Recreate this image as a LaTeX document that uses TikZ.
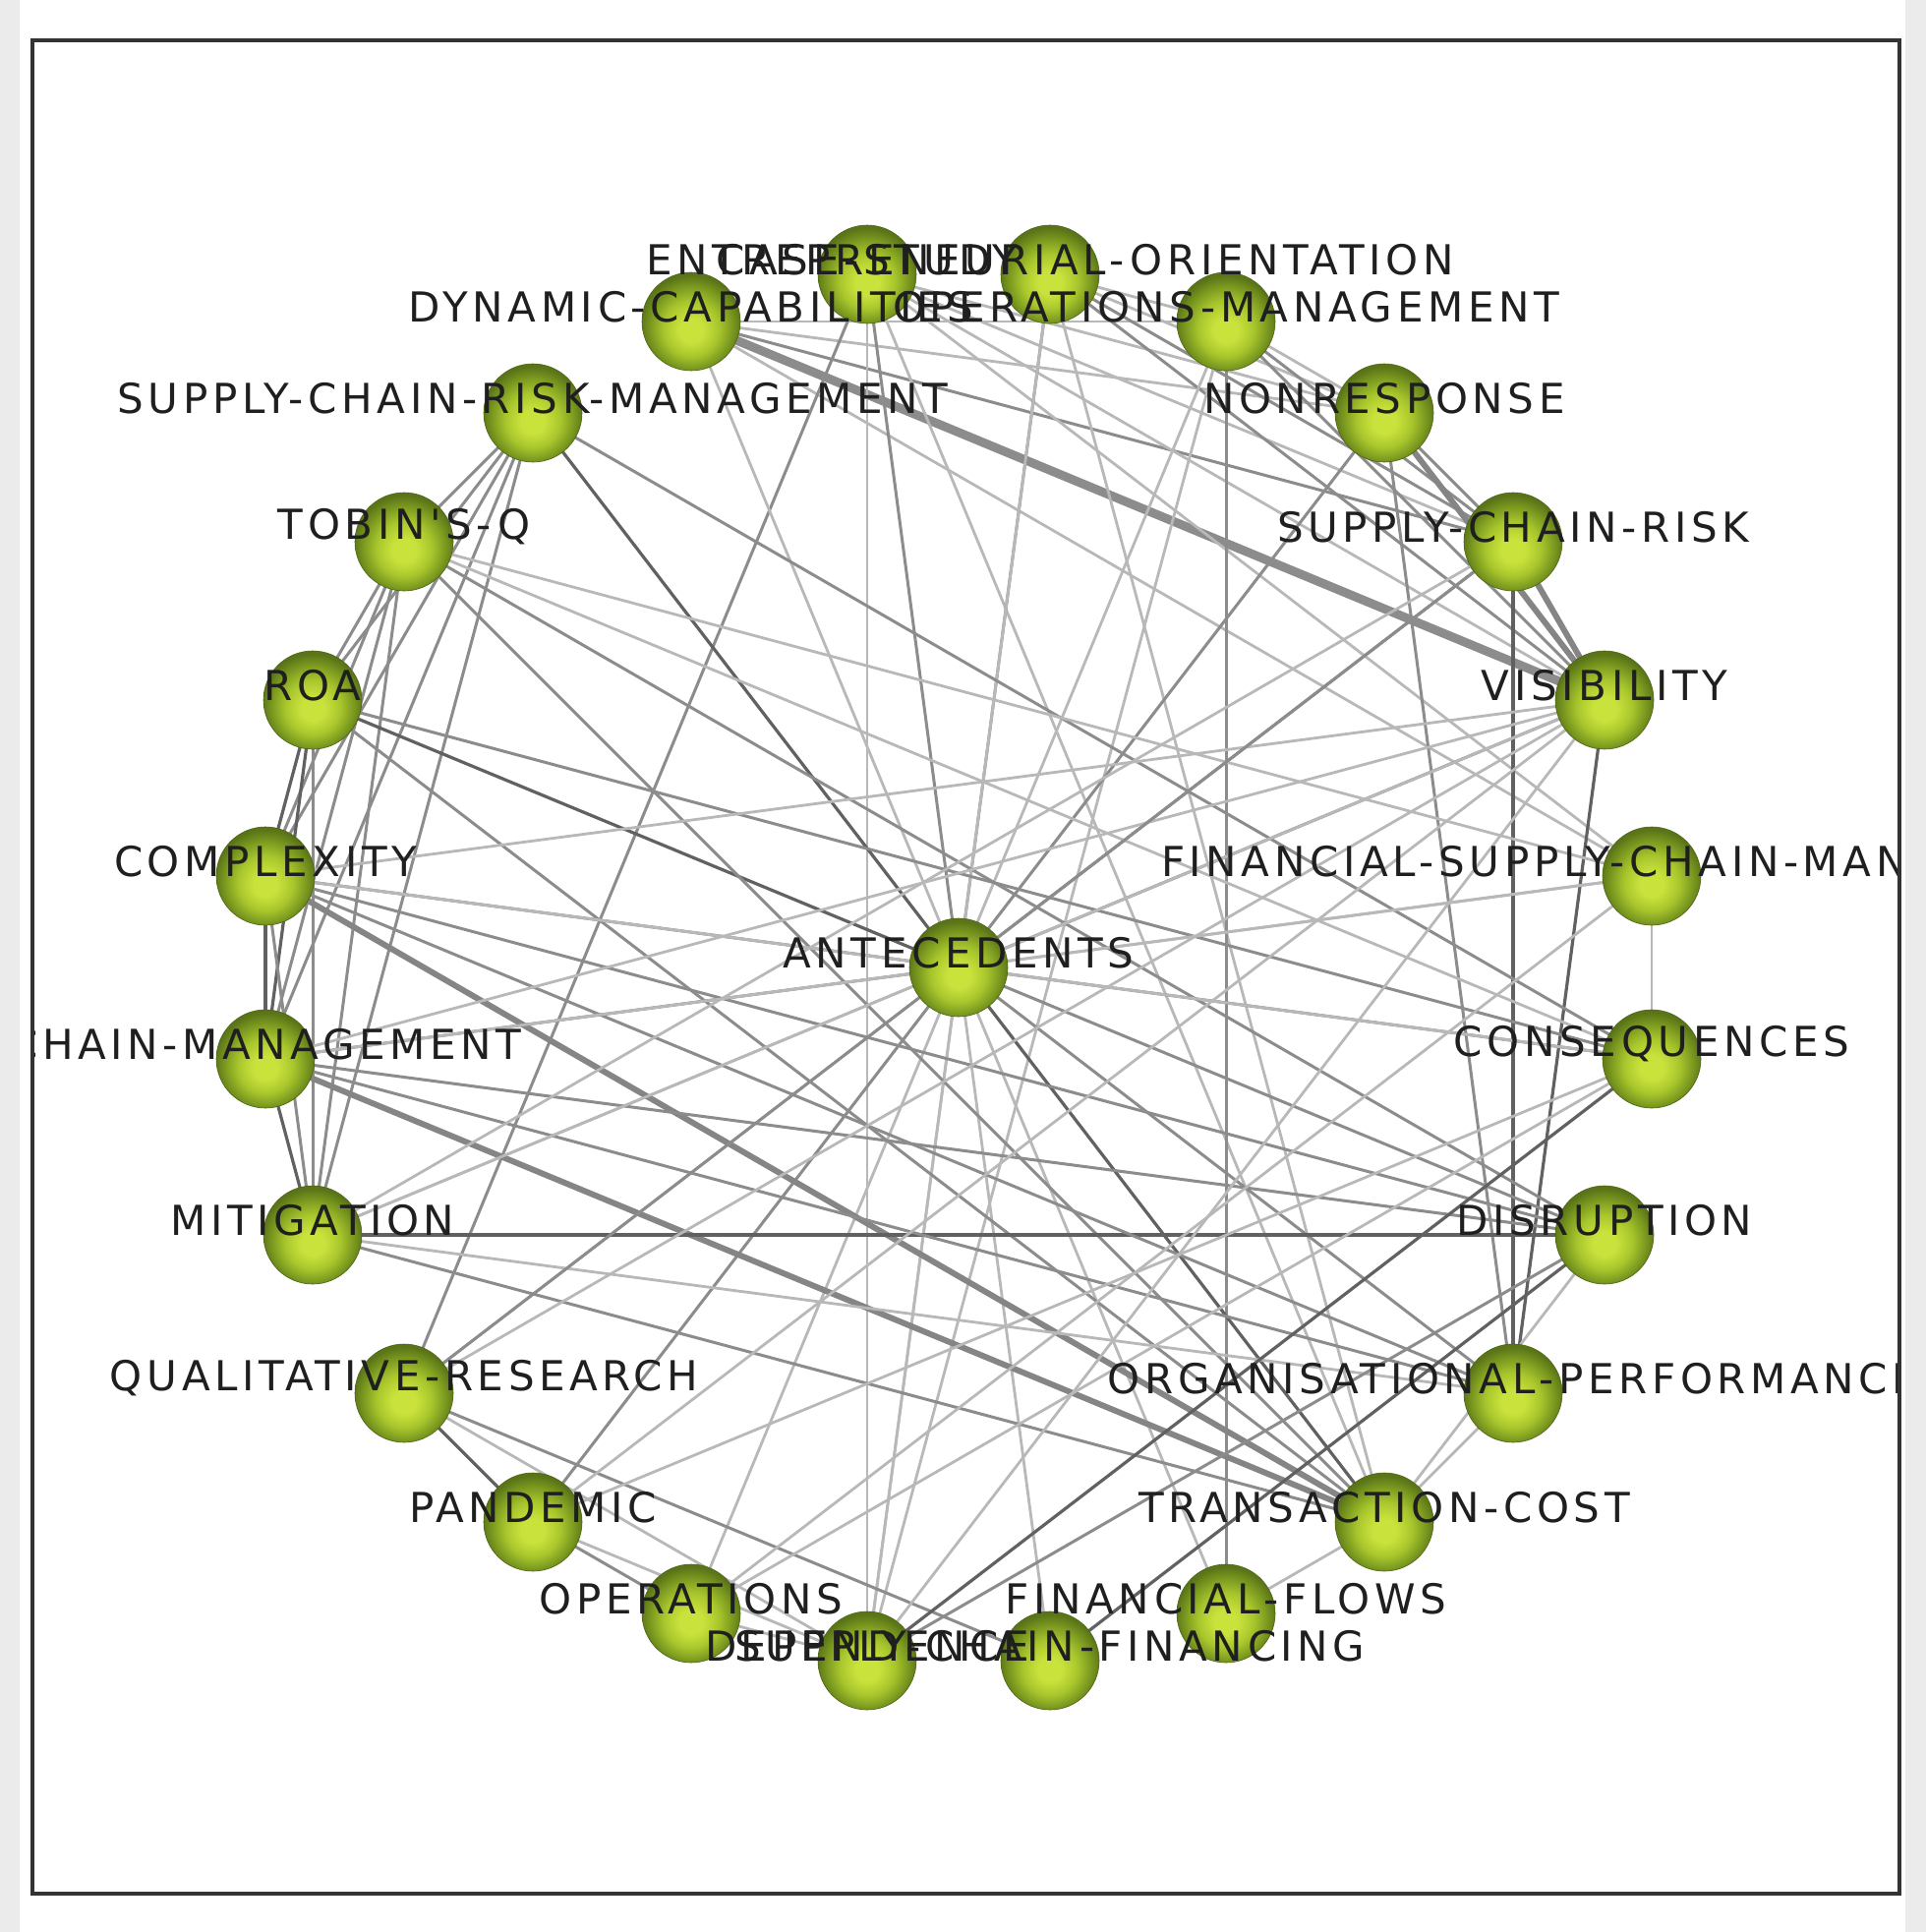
\documentclass[tikz,border=0pt]{standalone}
\usepackage{fontspec}
\newfontfamily\lblfont[LetterSpace=11]{DejaVu Sans}
\usetikzlibrary{calc}
\definecolor{gA}{RGB}{202,226,60}
\definecolor{gB}{RGB}{168,198,44}
\definecolor{gD}{RGB}{122,152,31}
\definecolor{gC}{RGB}{90,116,24}
\pgfdeclareradialshading{ballg}{\pgfpoint{0bp}{-5bp}}{color(0bp)=(gA); color(6bp)=(gA); color(14bp)=(gB); color(21bp)=(gD); color(26bp)=(gC); color(50bp)=(gC)}
\tikzset{
  x=0.5pt, y=-0.5pt,
  ball/.style={circle, minimum size=50pt, inner sep=0pt, shading=ballg, draw=gC!85!black, line width=0.3pt},
  lbl/.style={font=\lblfont\fontsize{21}{24}\selectfont, text=black!88, inner sep=0pt, anchor=center},
  eL/.style={draw=black!28, line width=1.4pt},
  eM/.style={draw=black!45, line width=1.5pt},
  eD/.style={draw=black!62, line width=1.6pt},
  eT/.style={draw=black!48, line width=3pt},
  eX/.style={draw=black!45, line width=4.5pt},
}
\begin{document}
\begin{tikzpicture}
\useasboundingbox (0,0) rectangle (1959,1965);
\fill[black!8] (0,0) rectangle (20,1965);
\fill[black!8] (1938,0) rectangle (1959,1965);
% node coordinates
\coordinate (p1) at (1068,279);
\coordinate (p2) at (1247,327);
\coordinate (p3) at (1408,420);
\coordinate (p4) at (1539,551);
\coordinate (p5) at (1632,712);
\coordinate (p6) at (1680,891);
\coordinate (p7) at (1680,1077);
\coordinate (p8) at (1632,1256);
\coordinate (p9) at (1539,1417);
\coordinate (p10) at (1408,1548);
\coordinate (p11) at (1247,1641);
\coordinate (p12) at (1068,1689);
\coordinate (p13) at (882,1689);
\coordinate (p14) at (703,1641);
\coordinate (p15) at (542,1548);
\coordinate (p16) at (411,1417);
\coordinate (p17) at (318,1256);
\coordinate (p18) at (270,1077);
\coordinate (p19) at (270,891);
\coordinate (p20) at (318,712);
\coordinate (p21) at (411,551);
\coordinate (p22) at (542,420);
\coordinate (p23) at (703,327);
\coordinate (p24) at (882,279);
\coordinate (pc) at (975,984);
% top cluster
\draw[eX] (p23) -- (p5);
\draw[eL] (p23) -- (p3);
\draw[eL] (p23) -- (p2);
\draw[eM] (p23) -- (p4);
\draw[eL] (p23) -- (p6);
\draw[eL] (p24) -- (p13);
\draw[eM] (p24) -- (p16);
\draw[eL] (p24) -- (p5);
\draw[eL] (p24) -- (p3);
\draw[eL] (p24) -- (p4);
\draw[eL] (p24) -- (p6);
\draw[eL] (p24) -- (p10);
\draw[eM] (p1) -- (p5);
\draw[eM] (p1) -- (p4);
\draw[eL] (p1) -- (p3);
\draw[eL] (p1) -- (p2);
\draw[eM] (p1) -- (pc);
\draw[eL] (p1) -- (p13);
\draw[eL] (p1) -- (p10);
\draw[eM] (p2) -- (p11);
\draw[eM] (p2) -- (p5);
\draw[eM] (p2) -- (p4);
\draw[eL] (p2) -- (p3);
\draw[eL] (p2) -- (p13);
\draw[eL] (p2) -- (pc);
\draw[eT] (p3) -- (p5);
\draw[eM] (p3) -- (p4);
\draw[eM] (p3) -- (p9);
\draw[eT] (p4) -- (p5);
\draw[eD] (p4) -- (p9);
\draw[eD] (p5) -- (p9);
\draw[eL] (p6) -- (p7);
\draw[eM] (pc) -- (p3);
\draw[eM] (pc) -- (p4);
\draw[eM] (pc) -- (p5);
% left cluster
\draw[eM] (p22) -- (p21);
\draw[eM] (p22) -- (p20);
\draw[eM] (p22) -- (p19);
\draw[eM] (p22) -- (p18);
\draw[eM] (p22) -- (p17);
\draw[eM] (p21) -- (p20);
\draw[eM] (p21) -- (p19);
\draw[eM] (p21) -- (p18);
\draw[eM] (p21) -- (p17);
\draw[eD] (p20) -- (p19);
\draw[eD] (p20) -- (p18);
\draw[eM] (p20) -- (p17);
\draw[eD] (p19) -- (p18);
\draw[eM] (p19) -- (p17);
\draw[eD] (p18) -- (p17);
% center radial
\draw[eD] (p22) -- (pc);
\draw[eD] (p20) -- (pc);
\draw[eM] (p19) -- (pc);
\draw[eM] (p18) -- (pc);
\draw[eD] (pc) -- (p10);
\draw[eM] (pc) -- (p8);
\draw[eM] (pc) -- (p9);
\draw[eM] (pc) -- (p7);
\draw[eL] (pc) -- (p6);
\draw[eL] (pc) -- (p13);
\draw[eL] (pc) -- (p12);
\draw[eL] (pc) -- (p11);
\draw[eL] (pc) -- (p14);
\draw[eM] (pc) -- (p15);
\draw[eL] (pc) -- (p16);
\draw[eL] (pc) -- (p17);
\draw[eM] (pc) -- (p24);
\draw[eL] (pc) -- (p23);
% fans to the right
\draw[eT] (p19) -- (p10);
\draw[eT] (p18) -- (p10);
\draw[eM] (p20) -- (p10);
\draw[eM] (p21) -- (p10);
\draw[eM] (p17) -- (p10);
\draw[eD] (p17) -- (p8);
\draw[eM] (p18) -- (p8);
\draw[eM] (p19) -- (p8);
\draw[eM] (p21) -- (p8);
\draw[eM] (p18) -- (p9);
\draw[eM] (p19) -- (p9);
\draw[eL] (p17) -- (p9);
\draw[eM] (p20) -- (p7);
\draw[eM] (p22) -- (p7);
\draw[eL] (p21) -- (p7);
\draw[eL] (p19) -- (p7);
\draw[eL] (p21) -- (p6);
\draw[eL] (p18) -- (p6);
\draw[eL] (p17) -- (p5);
\draw[eL] (p18) -- (p5);
\draw[eL] (p19) -- (p5);
\draw[eL] (p17) -- (p4);
% bottom
\draw[eD] (p16) -- (p15);
\draw[eM] (p16) -- (p12);
\draw[eL] (p16) -- (p13);
\draw[eM] (p16) -- (p4);
\draw[eL] (p16) -- (p5);
\draw[eM] (p15) -- (p14);
\draw[eL] (p15) -- (p13);
\draw[eL] (p15) -- (p5);
\draw[eL] (p15) -- (p7);
\draw[eL] (p14) -- (p13);
\draw[eL] (p14) -- (p7);
\draw[eL] (p14) -- (p6);
\draw[eD] (p13) -- (p7);
\draw[eM] (p13) -- (p8);
\draw[eL] (p13) -- (p5);
\draw[eD] (p12) -- (p8);
\draw[eL] (p11) -- (p10);
\draw[eL] (p10) -- (p9);
\draw[eL] (p10) -- (p8);
% nodes
\foreach \i in {1,...,24} { \node[ball] (n\i) at (p\i) {}; }
\node[ball] (nc) at (pc) {};
% labels, clipped to the frame
\begin{scope}
\clip (35,43) rectangle (1929,1924);
\node[lbl] at ($(p1)+(0,-15)$) {ENTREPRENEURIAL-ORIENTATION};
\node[lbl] at ($(p24)+(0,-15)$) {CASE-STUDY};
\node[lbl] at ($(p2)+(0,-15)$) {OPERATIONS-MANAGEMENT};
\node[lbl] at ($(p23)+(0,-15)$) {DYNAMIC-CAPABILITIES};
\node[lbl] at ($(p3)+(0,-15)$) {NONRESPONSE};
\node[lbl] at ($(p22)+(0,-15)$) {SUPPLY-CHAIN-RISK-MANAGEMENT};
\node[lbl] at ($(p4)+(0,-15)$) {SUPPLY-CHAIN-RISK};
\node[lbl] at ($(p21)+(0,-15)$) {TOBIN'S-Q};
\node[lbl] at ($(p5)+(0,-15)$) {VISIBILITY};
\node[lbl] at ($(p20)+(0,-15)$) {ROA};
\node[lbl] at ($(p6)+(0,-15)$) {FINANCIAL-SUPPLY-CHAIN-MANAGEMENT};
\node[lbl] at ($(p19)+(0,-15)$) {COMPLEXITY};
\node[lbl] at ($(p7)+(0,-15)$) {CONSEQUENCES};
\node[lbl] at ($(p18)+(0,-15)$) {CHAIN-MANAGEMENT};
\node[lbl] at ($(p8)+(0,-15)$) {DISRUPTION};
\node[lbl] at ($(p17)+(0,-15)$) {MITIGATION};
\node[lbl] at ($(p9)+(0,-15)$) {ORGANISATIONAL-PERFORMANCE};
\node[lbl] at ($(p16)+(0,-15)$) {QUALITATIVE-RESEARCH};
\node[lbl] at ($(p10)+(0,-15)$) {TRANSACTION-COST};
\node[lbl] at ($(p15)+(0,-15)$) {PANDEMIC};
\node[lbl] at ($(p11)+(0,-15)$) {FINANCIAL-FLOWS};
\node[lbl] at ($(p14)+(0,-15)$) {OPERATIONS};
\node[lbl] at ($(p12)+(0,-15)$) {SUPPLY-CHAIN-FINANCING};
\node[lbl] at ($(p13)+(0,-15)$) {DEPENDENCE};
\node[lbl] at ($(pc)+(0,-15)$) {ANTECEDENTS};
\end{scope}
% frame
\draw[black!80, line width=2pt] (33,41) rectangle (1932,1926);
\end{tikzpicture}
\end{document}
